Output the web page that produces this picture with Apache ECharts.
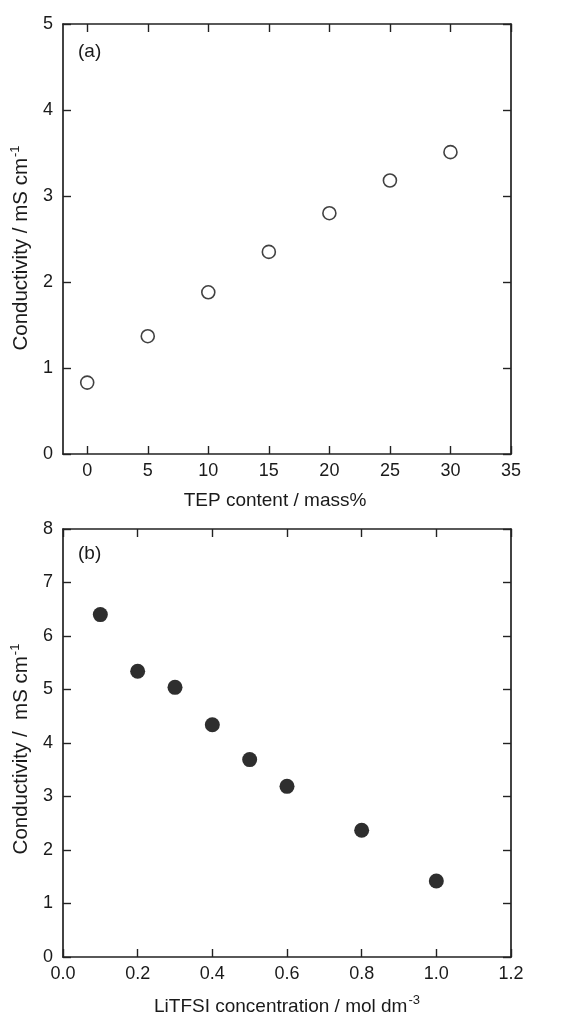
<!DOCTYPE html>
<html>
<head>
<meta charset="utf-8">
<script src="https://cdn.jsdelivr.net/npm/echarts@6/dist/echarts.min.js"></script>
<style>
html,body{margin:0;padding:0;background:#fff;}
#chart{width:568px;height:1017px;}
</style>
</head>
<body>
<div id="chart"></div>
<script>
// Panel (a)
const tepContent = [0, 5, 10, 15, 20, 25, 30];
const conductivityA = [0.83, 1.37, 1.88, 2.35, 2.80, 3.18, 3.51];
const xTicksA = [0, 5, 10, 15, 20, 25, 30, 35];
// Panel (b)
const litfsiConc = [0.1, 0.2, 0.3, 0.4, 0.5, 0.6, 0.8, 1.0];
const conductivityB = [6.40, 5.34, 5.04, 4.34, 3.69, 3.19, 2.37, 1.42];
const xTicksB = [0, 0.2, 0.4, 0.6, 0.8, 1.0, 1.2];

const FONT = '"Liberation Sans", Arial, sans-serif';
const AX = '#222';
const TXT = '#1a1a1a';

const lineStyle = {color: AX, width: 1.7};
const tick = {show: true, inside: true, length: 8, lineStyle: {color: AX, width: 1.4}};
const lbl = {color: TXT, fontFamily: FONT, fontSize: 18};
const supStyle = {fontSize: 13, fontFamily: FONT, color: TXT, verticalAlign: 'bottom', padding: [0, 0, 12, 1]};
function nameStyle(size, pad) {
  return {color: TXT, fontFamily: FONT, fontSize: size, padding: pad || 0,
    rich: {n: {fontSize: size, fontFamily: FONT, color: TXT}, sup: supStyle}};
}

const grids = [
  {left: 63, top: 24, width: 448, height: 430},
  {left: 63, top: 529, width: 448, height: 432}
];

function xAx(gi, min, max, ticks, fmt, name, nts) {
  return [
    {type: 'value', gridIndex: gi, position: 'bottom', min: min, max: max,
      axisLine: {show: true, onZero: false, lineStyle: lineStyle},
      axisTick: Object.assign({}, tick, {customValues: ticks}),
      axisLabel: Object.assign({}, lbl, {customValues: ticks, margin: 8, formatter: fmt}),
      splitLine: {show: false},
      name: name, nameLocation: 'middle', nameGap: 37, nameTextStyle: nts},
    {type: 'value', gridIndex: gi, position: 'top', min: min, max: max,
      axisLine: {show: true, onZero: false, lineStyle: lineStyle},
      axisTick: Object.assign({}, tick, {customValues: ticks}),
      axisLabel: {show: false}, splitLine: {show: false}}
  ];
}
function yAx(gi, min, max, interval, name, nts) {
  return [
    {type: 'value', gridIndex: gi, position: 'left', min: min, max: max, interval: interval,
      axisLine: {show: true, onZero: false, lineStyle: lineStyle},
      axisTick: tick,
      axisLabel: Object.assign({}, lbl, {margin: 10}),
      splitLine: {show: false},
      name: name, nameLocation: 'middle', nameGap: 23, nameRotate: 90, nameTextStyle: nts},
    {type: 'value', gridIndex: gi, position: 'right', min: min, max: max, interval: interval,
      axisLine: {show: true, onZero: false, lineStyle: lineStyle},
      axisTick: tick, axisLabel: {show: false}, splitLine: {show: false}}
  ];
}

const xAxes = [].concat(
  xAx(0, -2, 35, xTicksA, v => String(v), 'TEP content / mass%', nameStyle(19, [0, 24, 0, 0])),
  xAx(1, 0, 1.2, xTicksB, v => v.toFixed(1), '{n|LiTFSI concentration / mol dm}{sup|-3}', nameStyle(19))
);
const yAxes = [].concat(
  yAx(0, 0, 5, 1, '{n|Conductivity / mS cm}{sup|-1}', nameStyle(20.5, [0, 18, 0, 0])),
  yAx(1, 0, 8, 1, '{n|Conductivity /  mS cm}{sup|-1}', nameStyle(20.5, [0, 12, 0, 0]))
);

const option = {
  backgroundColor: '#fff',
  animation: false,
  grid: grids,
  xAxis: xAxes,
  yAxis: yAxes,
  graphic: [
    {type: 'text', left: 78, top: 42, style: {text: '(a)', fontFamily: FONT, fontSize: 19, fill: TXT}},
    {type: 'text', left: 78, top: 544, style: {text: '(b)', fontFamily: FONT, fontSize: 19, fill: TXT}}
  ],
  series: [
    {type: 'scatter', xAxisIndex: 0, yAxisIndex: 0, symbol: 'circle', symbolSize: 13,
      itemStyle: {color: '#fff', borderColor: '#111', borderWidth: 1.6},
      data: tepContent.map((x, i) => [x, conductivityA[i]])},
    {type: 'scatter', xAxisIndex: 2, yAxisIndex: 2, symbol: 'circle', symbolSize: 15,
      itemStyle: {color: '#2e2e2e', borderColor: '#2e2e2e', borderWidth: 0, opacity: 1},
      data: litfsiConc.map((x, i) => [x, conductivityB[i]])}
  ]
};
const chart = echarts.init(document.getElementById('chart'), null, {renderer: 'canvas'});
chart.setOption(option);
</script>
</body>
</html>
